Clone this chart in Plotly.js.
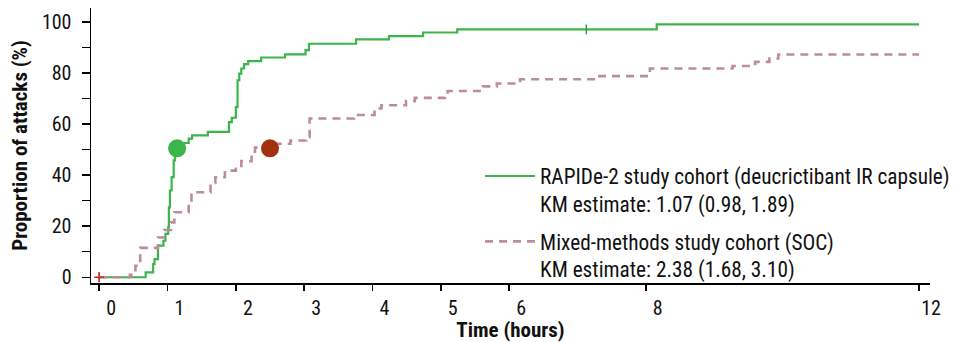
<!DOCTYPE html>
<html>
<head>
<meta charset="utf-8">
<script src="https://cdn.plot.ly/plotly-3.0.1.min.js"></script>
<style>html,body{margin:0;padding:0;background:#fff;}#chart{width:953px;height:342px;}</style>
</head>
<body>
<div id="chart"></div>
<script>
// RAPIDe-2 cohort (deucrictibant IR capsule) – KM step curve
const greenTime = [0, 0.68, 0.79, 0.81, 0.86, 0.94, 0.97, 1.01, 1.02, 1.035, 1.06, 1.09, 1.11, 1.14, 1.31, 1.36, 1.59, 1.90, 1.94, 2.00, 2.025, 2.05, 2.08, 2.12, 2.18, 2.37, 2.72, 3.02, 3.07, 3.76, 4.24, 4.74, 5.24, 8.16, 12.0];
const greenPct  = [0, 1.9, 5.2, 7.1, 12.4, 14.3, 17.0, 19.6, 27.4, 34.0, 39.2, 45.8, 50.0, 52.6, 54.3, 55.6, 57.0, 60.8, 62.5, 66.7, 77.2, 79.8, 81.8, 83.5, 84.7, 86.1, 87.3, 89.0, 91.5, 93.2, 94.5, 95.9, 97.1, 99.1, 99.1];
// Mixed-methods cohort (SOC) – KM step curve
const pinkTime = [0, 0.45, 0.53, 0.60, 0.86, 0.95, 1.05, 1.10, 1.31, 1.35, 1.63, 1.70, 1.84, 2.00, 2.08, 2.23, 2.28, 2.60, 2.80, 3.03, 3.08, 3.73, 4.03, 4.13, 4.49, 4.62, 5.06, 5.10, 5.62, 5.82, 6.16, 7.30, 8.06, 9.27, 9.60, 9.81, 9.94, 12.0];
const pinkPct  = [0, 1.0, 4.5, 11.5, 15.6, 18.5, 21.5, 25.5, 30.0, 33.3, 37.0, 39.2, 41.8, 42.5, 45.5, 48.0, 50.8, 52.3, 53.6, 55.0, 62.2, 63.6, 66.1, 67.4, 69.0, 70.3, 71.7, 73.0, 74.8, 75.9, 77.6, 78.8, 81.8, 82.8, 84.4, 85.7, 87.3, 87.3];
// censor marks
const greenCensorTime = [0, 7.13];
const greenCensorPct  = [0, 97.1];
const pinkCensorTime  = [0];
const pinkCensorPct   = [0];
// median markers (as drawn)
const greenMedianTime = [1.14];
const greenMedianPct  = [50.5];
const pinkMedianTime  = [2.5];
const pinkMedianPct   = [50.5];
// axes
const xTickVals = [0, 1, 2, 3, 4, 5, 6, 8, 12];
const xTickText = ['0', '1', '2', '3', '4', '5', '6', '8', '12'];
const yTickVals = [0, 10, 20, 30, 40, 50, 60, 70, 80, 90, 100];
const yTickText = ['0', '', '20', '', '40', '', '60', '', '80', '', '100'];
const legendGreen = 'RAPIDe-2 study cohort (deucrictibant IR capsule)<br>KM estimate: 1.07 (0.98, 1.89)';
const legendPink  = 'Mixed-methods study cohort (SOC)<br>KM estimate: 2.38 (1.68, 3.10)';

const GREEN = '#3cb54a';
const PINK = '#bb8d9c';
const RED = '#a3310f';
const FONT = 'Liberation Sans Narrow, Roboto Condensed, Roboto, sans-serif';

const traces = [
  {x: greenTime, y: greenPct, type: 'scatter', mode: 'lines', line: {shape: 'hv', color: GREEN, width: 2.2},
   name: legendGreen, legendgroup: 'g'},
  {x: pinkTime, y: pinkPct, type: 'scatter', mode: 'lines', line: {shape: 'hv', color: PINK, width: 2.6, dash: '8px,6px'},
   name: legendPink, legendgroup: 'p'},
  {x: greenCensorTime, y: greenCensorPct, type: 'scatter', mode: 'markers', showlegend: false, hoverinfo: 'skip',
   marker: {symbol: 'line-ns-open', size: 7, line: {color: GREEN, width: 1.5}}},
  {x: pinkCensorTime, y: pinkCensorPct, type: 'scatter', mode: 'markers', showlegend: false, hoverinfo: 'skip',
   marker: {symbol: 'cross-thin-open', size: 7, line: {color: PINK, width: 1.5}}},
  {x: greenMedianTime, y: greenMedianPct, type: 'scatter', mode: 'markers', showlegend: false,
   marker: {color: GREEN, size: 18}},
  {x: pinkMedianTime, y: pinkMedianPct, type: 'scatter', mode: 'markers', showlegend: false,
   marker: {color: RED, size: 18}}
];

const layout = {
  width: 953, height: 342,
  margin: {l: 91, r: 23, t: 8, b: 59, pad: 0, autoexpand: false},
  paper_bgcolor: '#fff', plot_bgcolor: '#fff',
  font: {family: FONT, size: 20, color: '#111'},
  showlegend: true,
  legend: {x: 0.4637, y: 0.463, xanchor: 'left', yanchor: 'top', valign: 'top', tracegroupgap: 7, itemwidth: 50,
           bgcolor: 'rgba(0,0,0,0)', font: {family: FONT, size: 21.3, color: '#111'}},
  xaxis: {range: [-0.12, 12.16], showline: true, linecolor: '#000', linewidth: 1.5, mirror: false,
          ticks: 'outside', ticklen: 6, tickwidth: 1.5, tickcolor: '#000',
          tickvals: xTickVals, ticktext: xTickText, ticklabelshift: 12,
          showgrid: false, zeroline: false, tickfont: {family: FONT, size: 20, color: '#111'},
          title: {text: '<b>Time (hours)</b>', font: {family: FONT, size: 21, color: '#111'}, standoff: 2}},
  yaxis: {range: [-2.25, 105.5], showline: true, linecolor: '#000', linewidth: 1.5,
          ticks: 'outside', ticklen: 8, tickwidth: 1.5, tickcolor: '#000',
          tickvals: yTickVals, ticktext: yTickText, ticklabelstandoff: 6,
          showgrid: false, zeroline: false, tickfont: {family: FONT, size: 20, color: '#111'},
          title: {text: '<b>Proportion of attacks (%)</b>', font: {family: FONT, size: 21, color: '#111'}, standoff: 8}}
};

Plotly.newPlot('chart', traces, layout, {displayModeBar: false, staticPlot: true});
</script>
</body>
</html>
